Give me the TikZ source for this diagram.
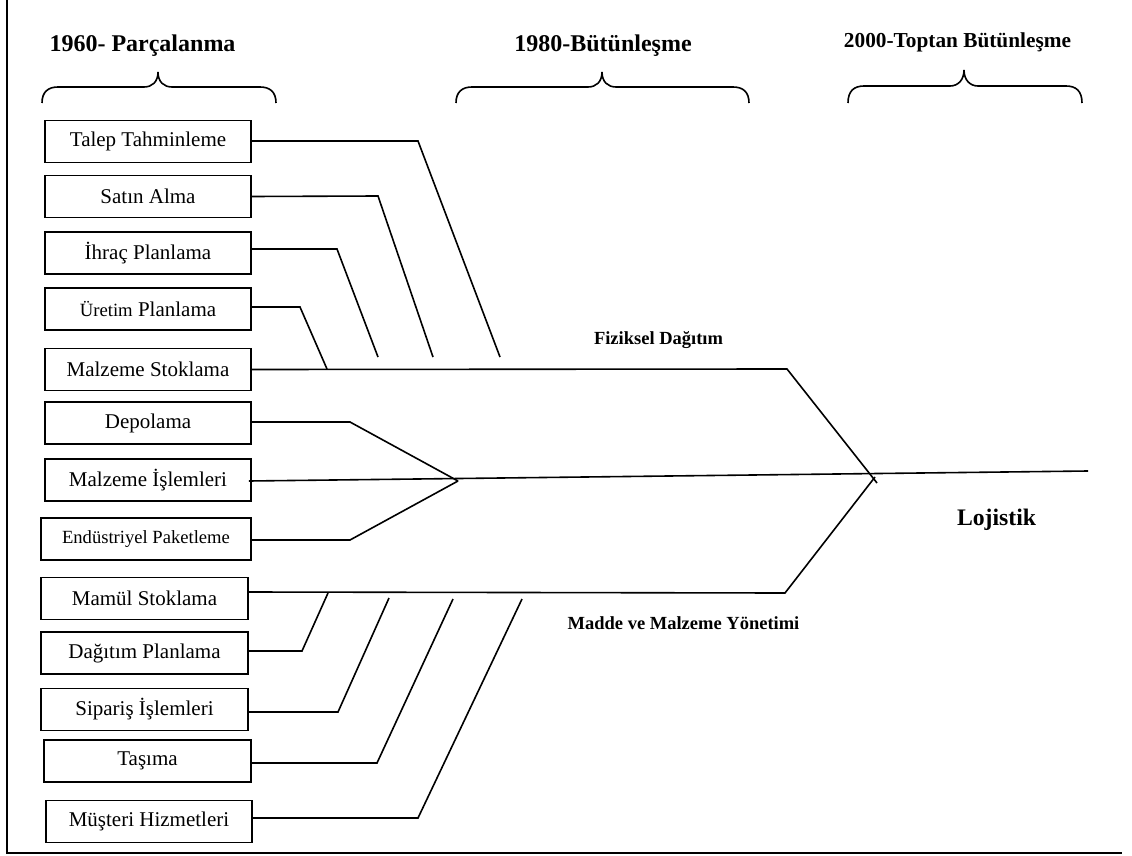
\documentclass[tikz,border=0pt]{standalone}
\usepackage{fontspec}
\setmainfont{Liberation Serif}
\begin{document}
\begin{tikzpicture}[x=1pt,y=-1pt,
  stepbox/.style={draw, line width=1.8pt, inner sep=0pt, minimum width=206pt, minimum height=42pt,
    font=\fontsize{21}{24}\selectfont},
  link/.style={line width=1.6pt, line join=miter},
  heading/.style={anchor=base, inner sep=0pt, font=\fontsize{24}{28}\selectfont\bfseries},
  branchlabel/.style={anchor=base, inner sep=0pt, font=\fontsize{18.5}{22}\selectfont\bfseries},
  brace/.style={line width=1.6pt}]
\useasboundingbox (0,0) rectangle (1132,856);

% frame
\draw[line width=2pt] (7,0) -- (7,853) -- (1122,853);

% era headings and braces
\node[heading] (h1960) at (142.5,52) {1960- Parçalanma};
\node[heading] (h1980) at (603,52) {1980-Bütünleşme};
\node[heading, font=\fontsize{21.3}{25}\selectfont\bfseries] (h2000) at (957.5,48) {2000-Toptan Bütünleşme};

\draw[brace] (42,103) .. controls (42,92) and (48,87) .. (58,87) -- (144,87)
  .. controls (152,87) and (158,82) .. (158,72) .. controls (158,82) and (164,87) .. (172,87)
  -- (260,87) .. controls (270,87) and (276,92) .. (276,103);
\draw[brace] (456,103) .. controls (456,92) and (462,87) .. (472,87) -- (588,87)
  .. controls (596,87) and (602,82) .. (602,72) .. controls (602,82) and (608,87) .. (616,87)
  -- (733,87) .. controls (743,87) and (749,92) .. (749,103);
\draw[brace] (848,103) .. controls (848,91) and (854,86) .. (864,86) -- (950,86)
  .. controls (958,86) and (964,80) .. (964,70) .. controls (964,80) and (970,86) .. (978,86)
  -- (1066,86) .. controls (1076,86) and (1082,91) .. (1082,103);

% activity boxes
\node[stepbox] (talep)   at (148,141.5) {Talep Tahminleme};
\node[stepbox] (satin)   at (148,196.5) {Satın Alma};
\node[stepbox] (ihrac)   at (148,253)   {İhraç Planlama};
\node[stepbox] (uretim)  at (148,309)   {{\fontsize{18.7}{22}\selectfont Üretim} Planlama};
\node[stepbox] (mstok)   at (148,369.5) {Malzeme Stoklama};
\node[stepbox] (depo)    at (148,423)   {Depolama};
\node[stepbox] (misl)    at (148,480)   {Malzeme İşlemleri};
\node[stepbox, minimum width=210pt, font=\fontsize{18.6}{22}\selectfont] (endus) at (146,539) {Endüstriyel Paketleme};
\node[stepbox, minimum width=207pt] (mamul)   at (144.5,598.5) {Mamül Stoklama};
\node[stepbox, minimum width=207pt] (dagitim) at (144.5,653)   {Dağıtım Planlama};
\node[stepbox, minimum width=207pt] (siparis) at (144.5,709.5) {Sipariş İşlemleri};
\node[stepbox, minimum width=207pt] (tasima)  at (147.5,761)   {Taşıma};
\node[stepbox, minimum width=206pt] (musteri) at (149,821.5)   {Müşteri Hizmetleri};

% branch junction points
\coordinate (fizEnd)  at (787,369);
\coordinate (maddeEnd) at (785,593);
\coordinate (head)    at (875,477);
\coordinate (spineEnd) at (1088,471);
\coordinate (midHead) at (458,481);

% upper branch: Fiziksel Dağıtım
\draw[link] (mstok.east) -- (fizEnd) -- (877,483);
\draw[link] ([yshift=0.5pt]talep.east) -- (418,141) -- (500,357);
\draw[link] (satin.east) -- (378,196) -- (433,357);
\draw[link] ([yshift=4pt]ihrac.east) -- (337,249) -- (378,357);
\draw[link] ([yshift=2pt]uretim.east) -- (300,307) -- (327,369);

% middle branch and main spine
\draw[link] ([yshift=-1pt,xshift=-3pt]misl.east) -- (spineEnd);
\draw[link] ([yshift=1pt]depo.east) -- (350,422) -- (midHead);
\draw[link] ([yshift=-1pt]endus.east) -- (350,540) -- (midHead);

% lower branch: Madde ve Malzeme Yönetimi
\draw[link] ([yshift=6.5pt]mamul.east) -- (maddeEnd) -- (head);
\draw[link] ([yshift=2pt]dagitim.east) -- (302,651) -- (328,593);
\draw[link] ([yshift=-2.5pt]siparis.east) -- (338,712) -- (389,598);
\draw[link] ([yshift=-2pt]tasima.east) -- (377,763) -- (453,599);
\draw[link] ([yshift=3.5pt]musteri.east) -- (418,818) -- (522,599);

% branch labels
\node[branchlabel] (fiziksel) at (658.5,344) {Fiziksel Dağıtım};
\node[branchlabel, fill=white] (madde) at (683.5,629) {Madde ve Malzeme Yönetimi};
\node[branchlabel, font=\fontsize{23.7}{28}\selectfont\bfseries] (lojistik) at (996.5,525) {Lojistik};
\end{tikzpicture}
\end{document}
